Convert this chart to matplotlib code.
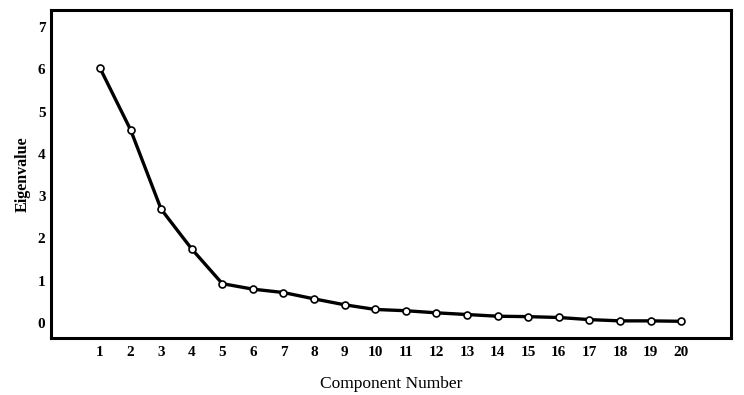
import matplotlib
matplotlib.use("Agg")
import matplotlib.pyplot as plt

components = list(range(1, 21))
eigenvalues = [6.03, 4.57, 2.69, 1.75, 0.93, 0.80, 0.72, 0.57, 0.43, 0.32,
               0.29, 0.24, 0.20, 0.16, 0.15, 0.13, 0.08, 0.05, 0.05, 0.04]
y_ticks = [0, 1, 2, 3, 4, 5, 6, 7]

plt.rcParams['font.family'] = ['Liberation Serif', 'DejaVu Serif']

fig = plt.figure(figsize=(7.44, 3.95), dpi=100)
ax = fig.add_axes([51/744, 1 - 338/395, (731-51)/744, (338-10)/395])

ax.plot(components, eigenvalues, color='black', linewidth=2.4,
        marker='o', markersize=5, markerfacecolor='white',
        markeredgecolor='black', markeredgewidth=1.2, zorder=3)

ax.set_xlim(-0.6, 21.63)
ax.set_ylim(-0.355, 7.4)
ax.set_xticks(components)
ax.set_xticklabels([str(c) for c in components], fontsize=11, fontweight='bold')
ax.set_yticks(y_ticks)
ax.set_yticklabels([str(t) for t in y_ticks], fontsize=11, fontweight='bold')
ax.tick_params(axis='x', length=0, pad=6)
ax.tick_params(axis='y', length=0, pad=4)

for s in ax.spines.values():
    s.set_linewidth(2.2)
    s.set_color('black')

ax.set_xlabel('Component Number', fontsize=12.5, labelpad=12)
ax.set_ylabel('Eigenvalue', fontsize=11.5, fontweight='bold', labelpad=5)

fig.savefig('out.png', dpi=100)
